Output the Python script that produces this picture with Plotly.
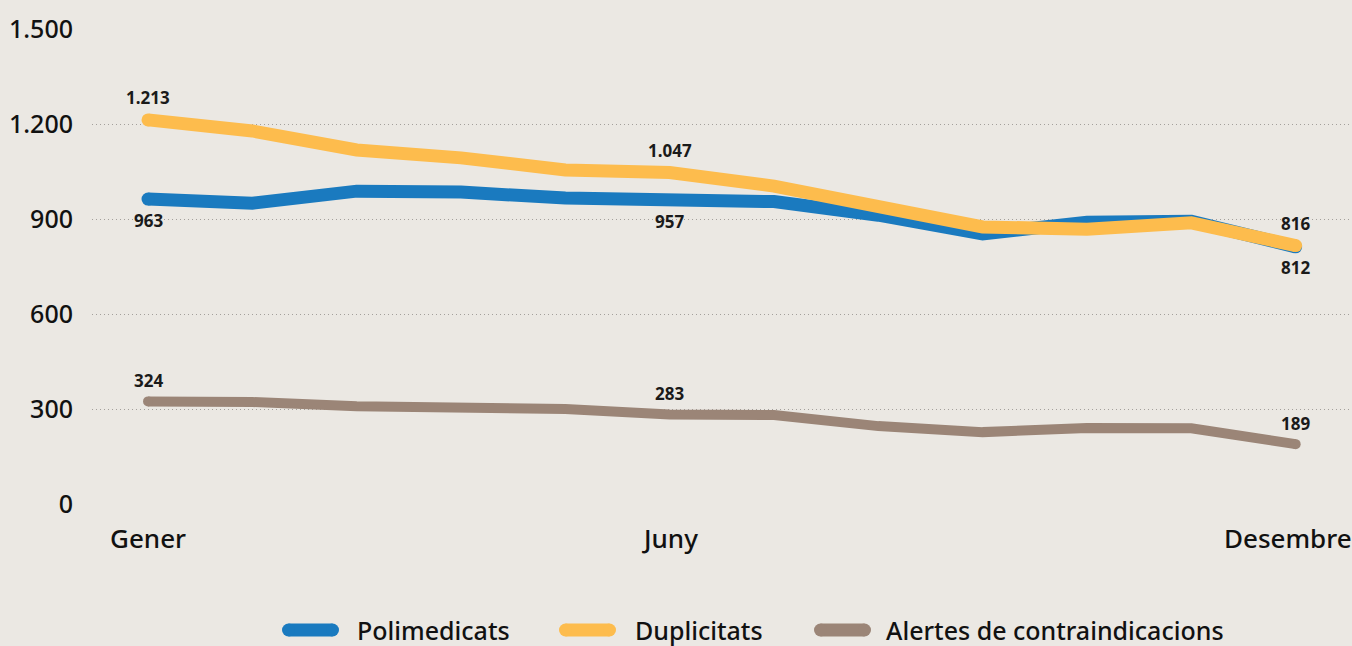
import plotly.graph_objects as go

months = ["Gener", "Febrer", "Març", "Abril", "Maig", "Juny", "Juliol",
          "Agost", "Setembre", "Octubre", "Novembre", "Desembre"]
tick_months = ["Gener", "Juny", "Desembre"]
polimedicats = [963, 950, 988, 985, 966, 957, 955, 912, 853, 890, 893, 812]
duplicitats = [1213, 1178, 1118, 1093, 1055, 1047, 1004, 938, 875, 868, 888, 816]
alertes = [324, 322, 309, 306, 300, 283, 281, 246, 227, 240, 239, 189]
y_ticks = [0, 300, 600, 900, 1200, 1500]
label_idx = [0, 5, 11]

series = [
    ("Polimedicats", polimedicats, "#1a7abf", 13, -21),
    ("Duplicitats", duplicitats, "#fdbc4d", 13, 22),
    ("Alertes de contraindicacions", alertes, "#9b8577", 10, 21),
]

W, H = 1352, 646
ML, MR, MT, MB = 92, 0, 29, 142
PW, PH = W - ML - MR, H - MT - MB


def px_to_paper_x(px):
    return (px - ML) / PW


def px_to_paper_y(py):
    return (H - MB - py) / PH


x = list(range(len(months)))
fig = go.Figure()
annotations = []
shapes = []
for name, vals, color, w, shift in series:
    fig.add_trace(go.Scatter(
        x=x, y=vals, mode="lines", name=name,
        line=dict(color=color, width=w),
        hoverinfo="skip", showlegend=False,
    ))
    fig.add_trace(go.Scatter(
        x=[x[0], x[-1]], y=[vals[0], vals[-1]], mode="markers",
        marker=dict(color=color, size=w, line=dict(width=0)),
        showlegend=False, hoverinfo="skip",
    ))
    for i in label_idx:
        annotations.append(dict(
            x=x[i], y=vals[i], text=f"{vals[i]:,}".replace(",", "."),
            showarrow=False, yshift=shift,
            font=dict(family="Noto Sans", size=17, color="#1a1a1a", weight="bold"),
        ))

# x-axis labels
x_shift = {"Gener": 0, "Juny": 0, "Desembre": -8}
for m in tick_months:
    annotations.append(dict(
        x=months.index(m), y=px_to_paper_y(538), yref="paper",
        text=m, showarrow=False, xshift=x_shift[m], yanchor="middle",
        font=dict(family="Noto Sans", size=26, color="#111111", weight=500),
    ))

# manual legend (pill symbols + text)
legend_items = [(282, 355), (559, 633), (814, 884)]
leg_y = px_to_paper_y(630)
for (sx, tx), (name, vals, color, w, shift) in zip(legend_items, series):
    sym_w, sym_h = 57, 13
    xa = px_to_paper_x(sx + sym_w / 2)
    shapes.append(dict(
        type="rect", xref="paper", yref="paper", xsizemode="pixel", ysizemode="pixel",
        xanchor=xa, yanchor=leg_y, x0=-(sym_w / 2 - sym_h / 2), x1=(sym_w / 2 - sym_h / 2),
        y0=-sym_h / 2, y1=sym_h / 2, fillcolor=color, line=dict(width=0),
    ))
    for end in (-1, 1):
        cxa = px_to_paper_x(sx + sym_w / 2 + end * (sym_w / 2 - sym_h / 2))
        shapes.append(dict(
            type="circle", xref="paper", yref="paper", xsizemode="pixel", ysizemode="pixel",
            xanchor=cxa, yanchor=leg_y, x0=-sym_h / 2, x1=sym_h / 2,
            y0=-sym_h / 2, y1=sym_h / 2, fillcolor=color, line=dict(width=0),
        ))
    annotations.append(dict(
        x=px_to_paper_x(tx), y=leg_y, xref="paper", yref="paper",
        xanchor="left", yanchor="middle", text=name, showarrow=False,
        font=dict(family="Noto Sans", size=25, color="#111111", weight=500),
    ))

fig.update_layout(
    width=W, height=H,
    paper_bgcolor="#ebe8e3", plot_bgcolor="#ebe8e3",
    margin=dict(l=ML, r=MR, t=MT, b=MB),
    separators=",.",
    font=dict(family="Noto Sans", color="#111111"),
    annotations=annotations,
    shapes=shapes,
    showlegend=False,
    xaxis=dict(
        range=[-0.537, 11.54], showgrid=False, zeroline=False, showline=False,
        showticklabels=False, ticks="",
    ),
    yaxis=dict(
        range=[0, 1500], tickmode="array", tickvals=y_ticks,
        tickformat=",d", tickfont=dict(size=25, color="#111111", weight=500),
        showgrid=True, gridcolor="#a39f9b", griddash="1px,3px", gridwidth=1,
        zeroline=False, showline=False, ticks="", ticklabelstandoff=18,
    ),
)
fig.write_html(
    "out.html",
    config={"displayModeBar": False},
    post_script="document.body.style.margin='0';document.body.style.overflow='hidden';",
)
